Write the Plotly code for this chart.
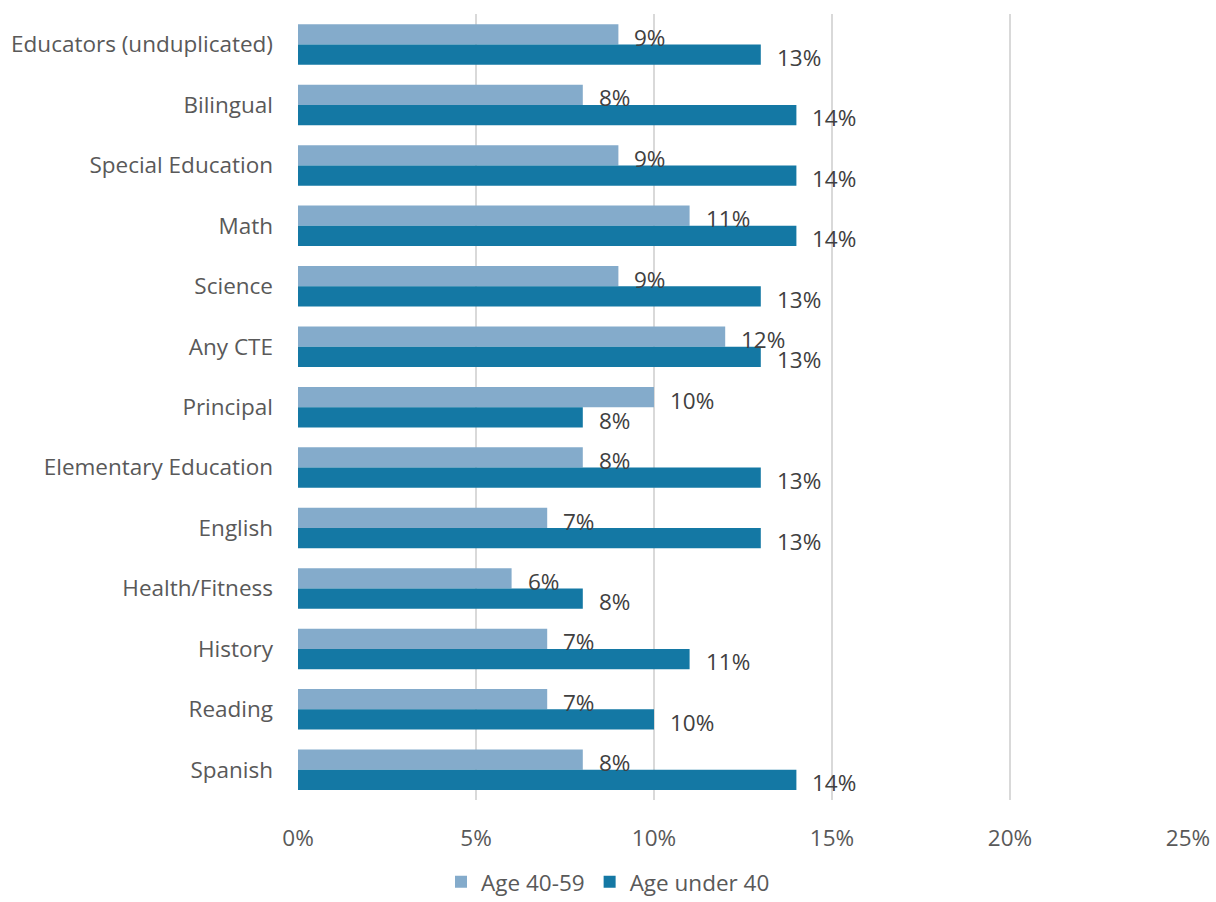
import plotly.graph_objects as go

categories = [
    "Educators (unduplicated)", "Bilingual", "Special Education", "Math", "Science",
    "Any CTE", "Principal", "Elementary Education", "English", "Health/Fitness",
    "History", "Reading", "Spanish",
]
age_40_59 = [9, 8, 9, 11, 9, 12, 10, 8, 7, 6, 7, 7, 8]
age_under_40 = [13, 14, 14, 14, 13, 13, 8, 13, 13, 8, 11, 10, 14]
x_ticks = [0, 5, 10, 15, 20, 25]

LIGHT = "#84abcb"
DARK = "#1478a4"
FONT = "Open Sans"
SIZE = 22.5

fig = go.Figure()
fig.add_trace(go.Bar(y=categories, x=age_40_59, orientation="h", name="Age 40-59",
                     marker=dict(color=LIGHT, line=dict(width=0))))
fig.add_trace(go.Bar(y=categories, x=age_under_40, orientation="h", name="Age under 40",
                     marker=dict(color=DARK, line=dict(width=0))))

# value labels just past each bar end
for cat, v in zip(categories, age_40_59):
    fig.add_annotation(x=v, y=cat, xref="x", yref="y", text=f"{v}%", showarrow=False,
                       xanchor="left", yanchor="middle", xshift=14, yshift=7,
                       font=dict(family=FONT, size=SIZE, color="#404040"))
for cat, v in zip(categories, age_under_40):
    fig.add_annotation(x=v, y=cat, xref="x", yref="y", text=f"{v}%", showarrow=False,
                       xanchor="left", yanchor="middle", xshift=14, yshift=-13,
                       font=dict(family=FONT, size=SIZE, color="#404040"))

fig.update_layout(
    width=1216, height=902,
    margin=dict(l=298, r=28, t=14, b=102),
    paper_bgcolor="white", plot_bgcolor="white",
    barmode="group", bargap=0.33, bargroupgap=0,
    font=dict(family=FONT, size=SIZE, color="#595959"),
    showlegend=True,
    legend=dict(orientation="h", x=0.5, xanchor="center", xref="container",
                y=0.022, yanchor="middle", yref="container",
                font=dict(family=FONT, size=SIZE, color="#595959"),
                traceorder="normal", itemwidth=30, borderwidth=0,
                tracegroupgap=0, bgcolor="rgba(0,0,0,0)"),
    xaxis=dict(range=[0, 25], tickvals=x_ticks, ticktext=[f"{t}%" for t in x_ticks],
               showgrid=True, gridcolor="#d9d9d9", gridwidth=2, zeroline=False,
               showline=False, ticks="", ticklabelstandoff=22, automargin=False,
               tickfont=dict(family=FONT, size=SIZE, color="#595959")),
    yaxis=dict(autorange="reversed", showgrid=False, zeroline=False, showline=False,
               ticks="", ticklabelstandoff=24, automargin=False,
               tickfont=dict(family=FONT, size=SIZE, color="#595959")),
)

fig.write_html("out.html")
